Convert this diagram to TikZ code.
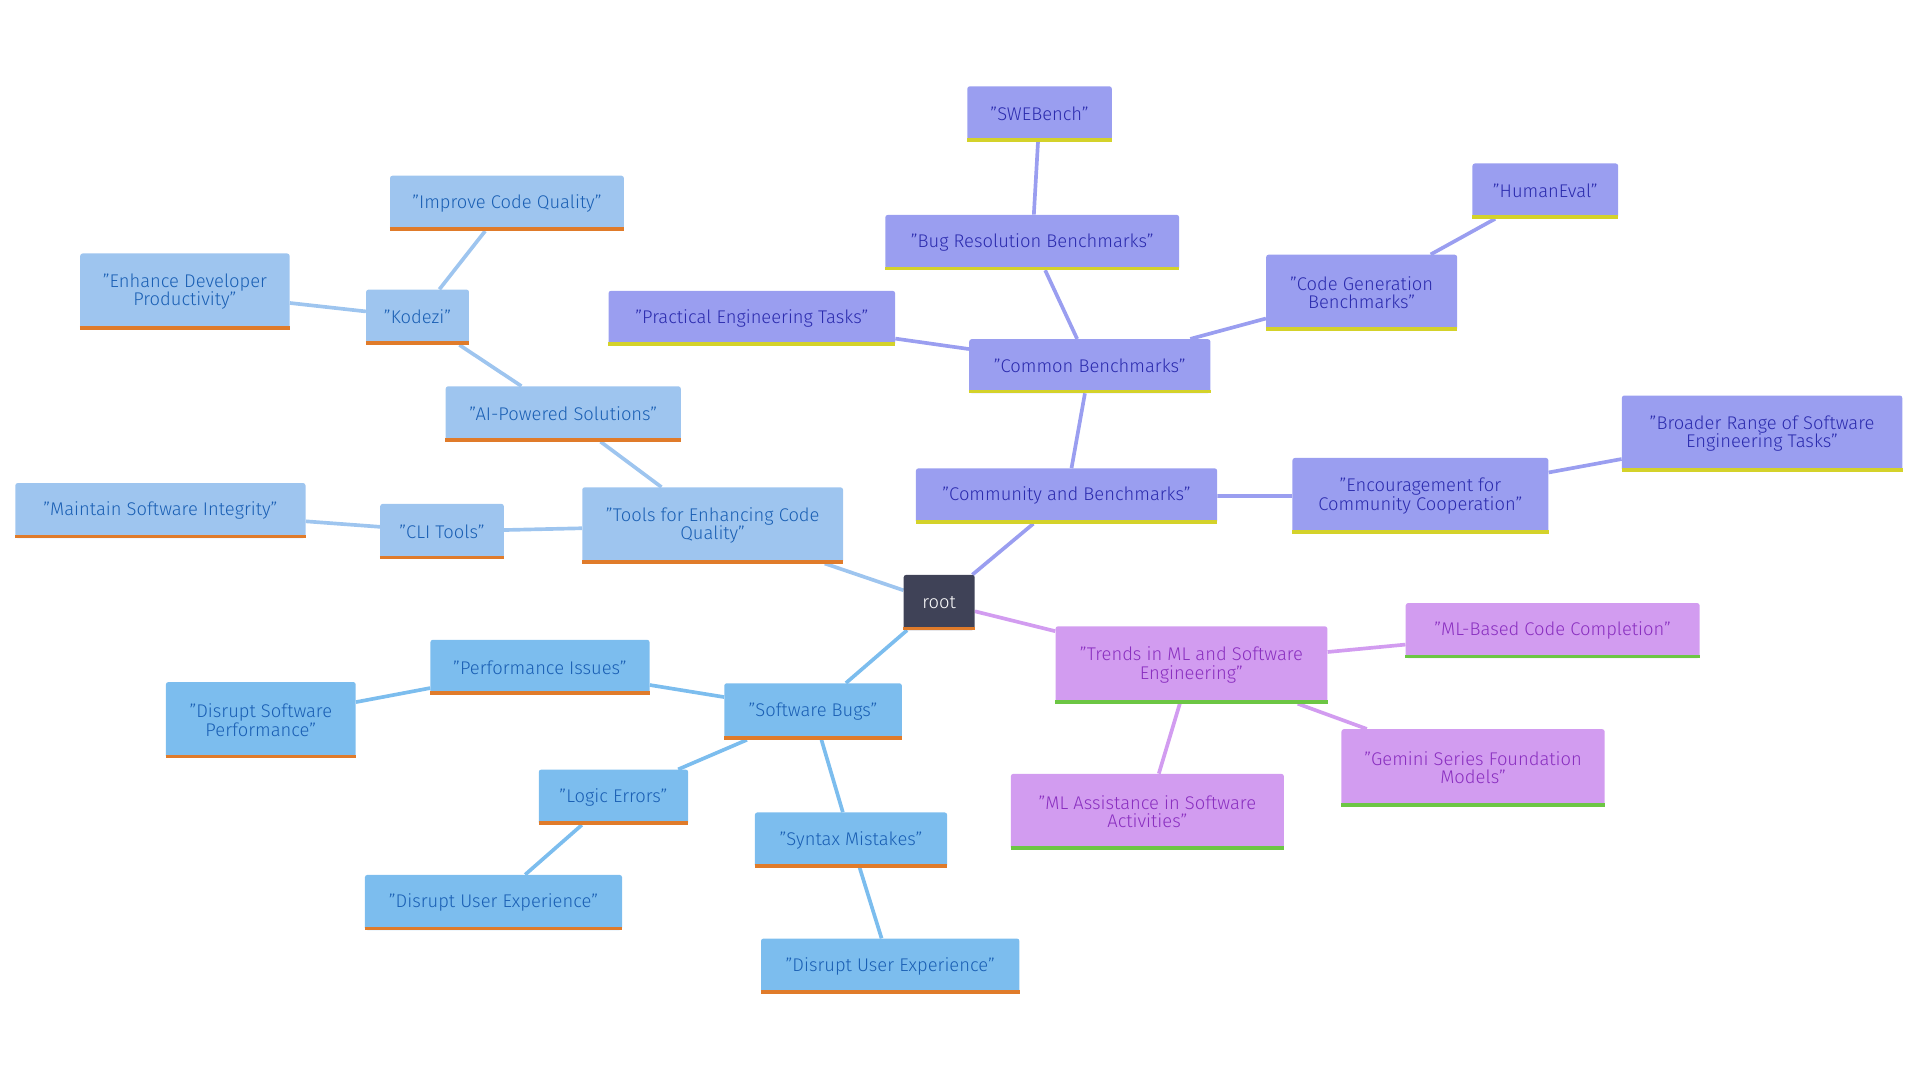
\documentclass[tikz,border=0pt]{standalone}
\usepackage{fontspec}
\setmainfont{Fira Sans Light}[BoldFont=Fira Sans]
\usetikzlibrary{backgrounds}
\definecolor{rootbg}{HTML}{3F4257}
\definecolor{toolbg}{HTML}{9EC5EF}
\definecolor{bugbg}{HTML}{7CBDEE}
\definecolor{bluetx}{HTML}{1A5FB4}
\definecolor{combg}{HTML}{9A9EF0}
\definecolor{comtx}{HTML}{2B2BAE}
\definecolor{mlbg}{HTML}{D29CF0}
\definecolor{mltx}{HTML}{8A2FC0}
\definecolor{orangeln}{HTML}{E07B2A}
\definecolor{yellowln}{HTML}{D4D22A}
\definecolor{greenln}{HTML}{6CC644}
\tikzset{
  box/.style={rounded corners=2pt, inner sep=0pt, align=center,
    font=\fontsize{15}{15}\selectfont},
  tool/.style={box, fill=toolbg, text=bluetx},
  bug/.style={box, fill=bugbg, text=bluetx},
  com/.style={box, fill=combg, text=comtx},
  ml/.style={box, fill=mlbg, text=mltx},
  link/.style={line width=3pt}
}
% box: name, x, y, width, height, style, underline colour, text
\newcommand{\bx}[8]{%
  \node[#6, minimum width=#4, minimum height=#5] (#1) at (#2,#3) {#8};
  \draw[#7, line width=3pt] ([yshift=1.5pt]#1.south west) -- ([yshift=1.5pt]#1.south east);}
\begin{document}
\begin{tikzpicture}[x=1pt,y=-1pt]
\useasboundingbox (0,0) rectangle (1568,882);
%root
\node[box, fill=rootbg, text=white, minimum width=58, minimum height=45] (root) at (767,492) {root};
\draw[orangeln, line width=3pt] ([yshift=1.5pt]root.south west) -- ([yshift=1.5pt]root.south east);
%tools
\bx{tools}{582}{429}{213}{62}{tool}{orangeln}{"Tools for Enhancing Code\\Quality"}
\bx{ai}{460}{338}{192}{45}{tool}{orangeln}{"AI-Powered Solutions"}
\bx{kodezi}{341}{259}{84}{45}{tool}{orangeln}{"Kodezi"}
\bx{improve}{414}{166}{191}{45}{tool}{orangeln}{"Improve Code Quality"}
\bx{enhance}{151}{238}{171}{62}{tool}{orangeln}{"Enhance Developer\\Productivity"}
\bx{cli}{361}{434}{101}{45}{tool}{orangeln}{"CLI Tools"}
\bx{maintain}{131}{417}{237}{45}{tool}{orangeln}{"Maintain Software Integrity"}
%bugs
\bx{bugs}{664}{581}{145}{46}{bug}{orangeln}{"Software Bugs"}
\bx{perf}{441}{545}{179}{45}{bug}{orangeln}{"Performance Issues"}
\bx{dperf}{213}{588}{155}{62}{bug}{orangeln}{"Disrupt Software\\Performance"}
\bx{logic}{501}{651}{122}{45}{bug}{orangeln}{"Logic Errors"}
\bx{dux1}{403}{737}{210}{45}{bug}{orangeln}{"Disrupt User Experience"}
\bx{syntax}{695}{686}{157}{45}{bug}{orangeln}{"Syntax Mistakes"}
\bx{dux2}{727}{789}{211}{45}{bug}{orangeln}{"Disrupt User Experience"}
%community
\bx{community}{871}{405}{246}{45}{com}{yellowln}{"Community and Benchmarks"}
\bx{common}{890}{299}{197}{44}{com}{yellowln}{"Common Benchmarks"}
\bx{bugres}{843}{198}{240}{45}{com}{yellowln}{"Bug Resolution Benchmarks"}
\bx{swe}{849}{93}{118}{45}{com}{yellowln}{"SWEBench"}
\bx{codegen}{1112}{239}{156}{62}{com}{yellowln}{"Code Generation\\Benchmarks"}
\bx{human}{1262}{156}{119}{45}{com}{yellowln}{"HumanEval"}
\bx{practical}{614}{260}{234}{45}{com}{yellowln}{"Practical Engineering Tasks"}
\bx{encourage}{1160}{405}{209}{62}{com}{yellowln}{"Encouragement for\\Community Cooperation"}
\bx{broader}{1439}{354}{229}{62}{com}{yellowln}{"Broader Range of Software\\Engineering Tasks"}
%ml
\bx{trends}{973}{543}{222}{63}{ml}{greenln}{"Trends in ML and Software\\Engineering"}
\bx{mlcode}{1268}{515}{240}{45}{ml}{greenln}{"ML-Based Code Completion"}
\bx{gemini}{1203}{627}{215}{63}{ml}{greenln}{"Gemini Series Foundation\\Models"}
\bx{mlassist}{937}{663}{223}{62}{ml}{greenln}{"ML Assistance in Software\\Activities"}
\begin{scope}[on background layer]
\draw[link, toolbg] (root) -- (tools) (tools) -- (ai) (ai) -- (kodezi)
  (kodezi) -- (improve) (kodezi) -- (enhance) (tools) -- (cli) (cli) -- (maintain);
\draw[link, bugbg] (root) -- (bugs) (bugs) -- (perf) (perf) -- (dperf)
  (bugs) -- (logic) (logic) -- (dux1) (bugs) -- (syntax) (syntax) -- (dux2);
\draw[link, combg] (root) -- (community) (community) -- (common) (common) -- (bugres)
  (bugres) -- (swe) (common) -- (codegen) (codegen) -- (human) (common) -- (practical)
  (community) -- (encourage) (encourage) -- (broader);
\draw[link, mlbg] (root) -- (trends) (trends) -- (mlcode) (trends) -- (gemini)
  (trends) -- (mlassist);
\end{scope}
\end{tikzpicture}
\end{document}
